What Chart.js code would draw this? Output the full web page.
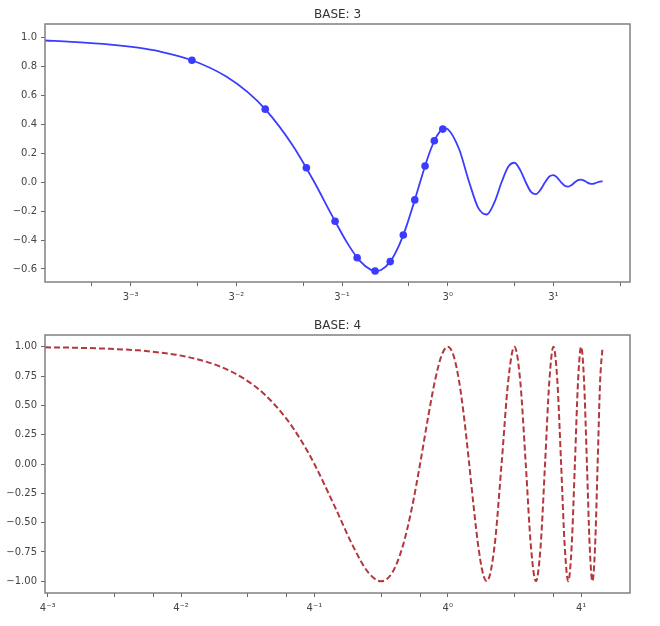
<!DOCTYPE html>
<html>
<head>
<meta charset="utf-8">
<script src="https://cdn.jsdelivr.net/npm/chart.js@4.4.1/dist/chart.umd.min.js"></script>
<style>
html, body { margin: 0; padding: 0; background: #fff; }
#wrap { position: relative; width: 660px; height: 626px; }
.box { position: absolute; left: 0; width: 660px; }
</style>
</head>
<body>
<div id="wrap">
  <div class="box" style="top:0;height:310px"><canvas id="base3" width="660" height="310"></canvas></div>
  <div class="box" style="top:310px;height:316px"><canvas id="base4" width="660" height="316"></canvas></div>
</div>
<script>
// top panel: damped wave, x on a base 3 log axis
var base3X = [0.0152, 0.02, 0.03, 0.04, 0.05, 0.07, 0.1, 0.125, 0.15, 0.2,
    0.25, 0.3, 0.35, 0.4, 0.45, 0.475, 0.5, 0.55, 0.6, 0.65,
    0.7, 0.75, 0.8, 0.85, 0.9, 0.95, 0.975, 1.0,
    1.125, 1.25, 1.375, 1.5, 1.625, 1.75, 1.875, 2.0,
    2.125, 2.25, 2.375, 2.5, 2.625, 2.75, 2.875, 3.0,
    3.125, 3.25, 3.375, 3.5, 3.625, 3.75, 3.875, 4.0,
    4.125, 4.25, 4.375, 4.5, 4.625, 4.75, 4.875, 5.0];
var base3Y = [0.981, 0.972, 0.953, 0.931, 0.905, 0.844, 0.732, 0.624, 0.506, 0.253,
    0.0, -0.229, -0.414, -0.542, -0.606, -0.614, -0.607, -0.549, -0.444, -0.307,
    -0.153, 0.0, 0.139, 0.251, 0.329, 0.368, 0.373, 0.368,
    0.230, 0.0, -0.179, -0.223, -0.139, 0.0, 0.108, 0.135,
    0.084, 0.0, -0.066, -0.082, -0.051, 0.0, 0.040, 0.050,
    0.031, 0.0, -0.024, -0.030, -0.019, 0.0, 0.015, 0.018,
    0.011, 0.0, -0.009, -0.011, -0.007, 0.0, 0.005, 0.007];
var markX = [0.07, 0.15, 0.23, 0.31, 0.39, 0.47, 0.55, 0.63, 0.71, 0.79, 0.87, 0.95];
var markY = [0.844, 0.506, 0.100, -0.270, -0.522, -0.614, -0.549, -0.365, -0.122, 0.113, 0.287, 0.368];

// bottom panel: cosine, x on a base 4 log axis
var base4X = [0.0152, 0.02, 0.03, 0.04, 0.05, 0.0625, 0.08, 0.1, 0.125, 0.15, 0.1875, 0.22,
    0.25, 0.3125, 0.375, 0.4375, 0.5, 0.5625, 0.625, 0.6875, 0.75, 0.8125, 0.875, 0.9375,
    1.0, 1.0625, 1.125, 1.1875, 1.25, 1.3125, 1.375, 1.4375, 1.5,
    1.625, 1.75, 1.875, 2.0, 2.125, 2.25, 2.375, 2.5, 2.625, 2.75, 2.875, 3.0,
    3.125, 3.25, 3.375, 3.5, 3.625, 3.75, 3.875, 4.0, 4.125, 4.25, 4.375, 4.5,
    4.625, 4.75, 4.875, 5.0];
var base4Y = [0.995, 0.992, 0.982, 0.969, 0.951, 0.924, 0.876, 0.809, 0.707, 0.588, 0.383, 0.187,
    0.0, -0.383, -0.707, -0.924, -1.0, -0.924, -0.707, -0.383, 0.0, 0.383, 0.707, 0.924,
    1.0, 0.924, 0.707, 0.383, 0.0, -0.383, -0.707, -0.924, -1.0,
    -0.707, 0.0, 0.707, 1.0, 0.707, 0.0, -0.707, -1.0, -0.707, 0.0, 0.707, 1.0,
    0.707, 0.0, -0.707, -1.0, -0.707, 0.0, 0.707, 1.0, 0.707, 0.0, -0.707, -1.0,
    -0.707, 0.0, 0.707, 1.0];

var base3Exp = [-3, -2, -1, 0, 1];
var base3Labels = ['3\u207B\u00B3', '3\u207B\u00B2', '3\u207B\u00B9', '3\u2070', '3\u00B9'];
var base4Exp = [-3, -2, -1, 0, 1];
var base4Labels = ['4\u207B\u00B3', '4\u207B\u00B2', '4\u207B\u00B9', '4\u2070', '4\u00B9'];
var base3YTicks = [-0.6, -0.4, -0.2, 0.0, 0.2, 0.4, 0.6, 0.8, 1.0];
var base4YTicks = [-1.0, -0.75, -0.5, -0.25, 0.0, 0.25, 0.5, 0.75, 1.0];

Chart.defaults.font.family = '"DejaVu Sans", sans-serif';
Chart.defaults.font.size = 10;
Chart.defaults.color = '#444';

var X_MIN = 0.0152, X_MAX = 6.65;

var frameAndTitle = {
    id: 'frameAndTitle',
    afterDraw: function (chart, args, opts) {
        var a = chart.chartArea, ctx = chart.ctx;
        ctx.save();
        ctx.strokeStyle = '#808080';
        ctx.lineWidth = 1.5;
        ctx.strokeRect(a.left, a.top, a.right - a.left, a.bottom - a.top);
        ctx.fillStyle = '#333';
        ctx.font = '12px "DejaVu Sans"';
        ctx.textAlign = 'center';
        ctx.textBaseline = 'middle';
        ctx.fillText(opts.text, (a.left + a.right) / 2, a.top - 9);
        ctx.restore();
    }
};

function pairs(xs, ys) {
    return xs.map(function (x, i) { return { x: x, y: ys[i] }; });
}

// major ticks at base^k, minor ticks at m*base^k
function logTicks(base, exps, minors) {
    var out = [];
    for (var k = -5; k <= 3; k++) {
        var p = Math.pow(base, k);
        if (p >= X_MIN && p <= X_MAX) out.push({ value: p });
        minors.forEach(function (m) {
            if (m * p >= X_MIN && m * p <= X_MAX) out.push({ value: m * p });
        });
    }
    return out;
}

function makeChart(id, cfg) {
    var majors = cfg.exps.map(function (e) { return Math.pow(cfg.base, e); });
    return new Chart(document.getElementById(id), {
        type: 'scatter',
        data: { datasets: cfg.datasets },
        options: {
            responsive: false,
            animation: false,
            devicePixelRatio: 1,
            layout: { padding: { top: cfg.top, right: 30, left: 0, bottom: 0 } },
            plugins: {
                legend: { display: false },
                tooltip: { enabled: false },
                frameAndTitle: { text: cfg.title }
            },
            scales: {
                x: {
                    type: 'logarithmic',
                    bounds: 'data',
                    min: X_MIN,
                    max: X_MAX,
                    afterBuildTicks: function (s) { s.ticks = logTicks(cfg.base, cfg.exps, cfg.minors); },
                    afterFit: function (s) { s.height = cfg.xHeight; },
                    ticks: {
                        autoSkip: false,
                        maxRotation: 0,
                        padding: 5,
                        callback: function (v) {
                            for (var i = 0; i < majors.length; i++) {
                                if (Math.abs(v - majors[i]) / majors[i] < 1e-6) return cfg.labels[i];
                            }
                            return '';
                        }
                    },
                    grid: { drawOnChartArea: false, tickLength: 4, color: '#666' },
                    border: { display: false }
                },
                y: {
                    min: cfg.yMin,
                    max: cfg.yMax,
                    afterBuildTicks: function (s) {
                        s.ticks = cfg.yTicks.map(function (v) { return { value: v }; });
                    },
                    afterFit: function (s) { s.width = 45; },
                    ticks: {
                        padding: 4,
                        callback: function (v) { return v.toFixed(cfg.yDigits).replace('-', '\u2212'); }
                    },
                    grid: { drawOnChartArea: false, tickLength: 4, color: '#666' },
                    border: { display: false }
                }
            }
        },
        plugins: [frameAndTitle]
    });
}

makeChart('base3', {
    title: 'BASE: 3',
    base: 3, exps: base3Exp, labels: base3Labels, minors: [2],
    top: 24, xHeight: 28,
    yMin: -0.69, yMax: 1.095, yTicks: base3YTicks, yDigits: 1,
    datasets: [{
        data: pairs(base3X, base3Y),
        showLine: true,
        borderColor: '#3c3cff',
        borderWidth: 1.8,
        pointRadius: 0,
        cubicInterpolationMode: 'monotone'
    }, {
        data: pairs(markX, markY),
        showLine: false,
        pointRadius: 3.8,
        pointBackgroundColor: '#3c3cff',
        pointBorderColor: '#3c3cff',
        pointBorderWidth: 0
    }]
});

makeChart('base4', {
    title: 'BASE: 4',
    base: 4, exps: base4Exp, labels: base4Labels, minors: [2, 3],
    top: 25, xHeight: 33,
    yMin: -1.1, yMax: 1.1, yTicks: base4YTicks, yDigits: 2,
    datasets: [{
        data: pairs(base4X, base4Y),
        showLine: true,
        borderColor: '#b4373c',
        borderWidth: 2,
        borderDash: [6, 3],
        pointRadius: 0,
        cubicInterpolationMode: 'monotone'
    }]
});
</script>
</body>
</html>
